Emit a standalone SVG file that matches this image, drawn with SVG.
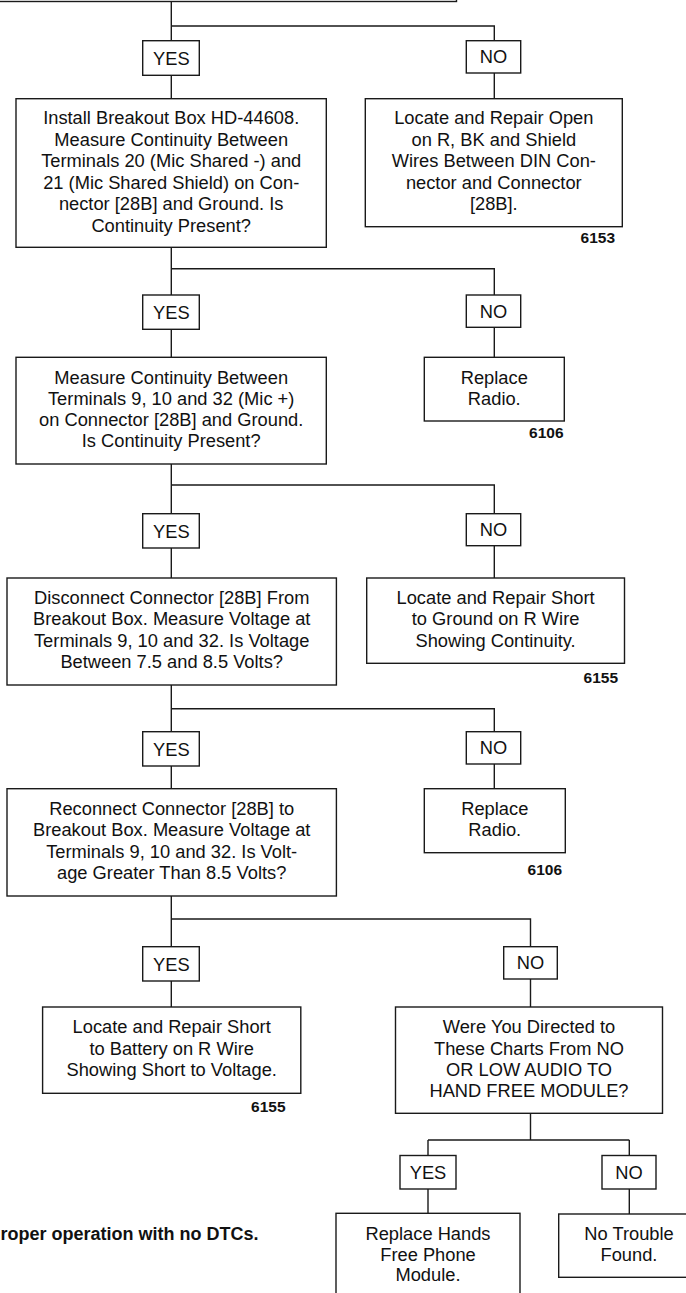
<svg xmlns="http://www.w3.org/2000/svg" width="686" height="1293" viewBox="0 0 686 1293">
<style>
.b{fill:#fff;stroke:#1a1a1a;stroke-width:1.4}
.c{fill:none;stroke:#1a1a1a;stroke-width:1.4}
.t{font-family:"Liberation Sans",Arial,sans-serif;font-size:18.3px;fill:#111;text-anchor:middle}
.n{font-family:"Liberation Sans",Arial,sans-serif;font-size:15.5px;font-weight:bold;fill:#111;text-anchor:end}
.f{font-family:"Liberation Sans",Arial,sans-serif;font-size:18px;font-weight:bold;fill:#111;text-anchor:start}
</style>
<rect width="686" height="1293" fill="#fff"/>
<g id="connectors">
<path class="c" d="M171.3 1.5V98.7M171.3 26H494.3V98.7"/>
<path class="c" d="M171.3 247.3V357.3M171.3 268.7H494.3V357.3"/>
<path class="c" d="M171.3 464V578M171.3 485H494.3V578"/>
<path class="c" d="M171.3 685V788.7M171.3 708.7H494.3V788.7"/>
<path class="c" d="M171.3 896V1007M171.3 919H530.5V1007"/>
<path class="c" d="M530.5 1113.3V1140M428 1140H629.3M428 1140V1213.3M629.3 1140V1214"/>
</g>
<g id="top"><rect class="b" x="-10" y="-50" width="466.5" height="51.5"/></g>
<g id="yes1"><rect class="b" x="142.7" y="40.7" width="56.6" height="34.6"/><text class="t" x="171.3" y="65">YES</text></g>
<g id="no1"><rect class="b" x="466.3" y="40.7" width="54.4" height="32.3"/><text class="t" x="493.5" y="63.3">NO</text></g>
<g id="box1"><rect class="b" x="16" y="98.7" width="310.3" height="148.6"/>
<text class="t" x="171.2" y="124">Install Breakout Box HD-44608.</text>
<text class="t" x="171.2" y="145.5">Measure Continuity Between</text>
<text class="t" x="171.2" y="167">Terminals 20 (Mic Shared -) and</text>
<text class="t" x="171.2" y="188.5">21 (Mic Shared Shield) on Con-</text>
<text class="t" x="171.2" y="210">nector [28B] and Ground. Is</text>
<text class="t" x="171.2" y="231.5">Continuity Present?</text></g>
<g id="rbox1"><rect class="b" x="365.3" y="98.7" width="257" height="128"/>
<text class="t" x="493.8" y="124">Locate and Repair Open</text>
<text class="t" x="493.8" y="145.5">on R, BK and Shield</text>
<text class="t" x="493.8" y="167">Wires Between DIN Con-</text>
<text class="t" x="493.8" y="188.5">nector and Connector</text>
<text class="t" x="493.8" y="210">[28B].</text>
<text class="n" x="615" y="243.3">6153</text></g>
<g id="yes2"><rect class="b" x="142.7" y="295" width="56.6" height="34.3"/><text class="t" x="171.3" y="319">YES</text></g>
<g id="no2"><rect class="b" x="466.3" y="295" width="54.4" height="32.3"/><text class="t" x="493.5" y="317.5">NO</text></g>
<g id="box2"><rect class="b" x="16" y="357.3" width="310.3" height="106.7"/>
<text class="t" x="171.2" y="383.5">Measure Continuity Between</text>
<text class="t" x="171.2" y="404.8">Terminals 9, 10 and 32 (Mic +)</text>
<text class="t" x="171.2" y="426.1">on Connector [28B] and Ground.</text>
<text class="t" x="171.2" y="447.4">Is Continuity Present?</text></g>
<g id="rbox2"><rect class="b" x="424.3" y="357.3" width="140" height="63.7"/>
<text class="t" x="494.3" y="383.5">Replace</text>
<text class="t" x="494.3" y="404.8">Radio.</text>
<text class="n" x="563.5" y="437.7">6106</text></g>
<g id="yes3"><rect class="b" x="142.7" y="513.7" width="56.6" height="34.3"/><text class="t" x="171.3" y="537.7">YES</text></g>
<g id="no3"><rect class="b" x="466.3" y="513.7" width="54.4" height="32"/><text class="t" x="493.5" y="536">NO</text></g>
<g id="box3"><rect class="b" x="7" y="578" width="329.4" height="107"/>
<text class="t" x="171.7" y="604">Disconnect Connector [28B] From</text>
<text class="t" x="171.7" y="625.3">Breakout Box. Measure Voltage at</text>
<text class="t" x="171.7" y="646.6">Terminals 9, 10 and 32. Is Voltage</text>
<text class="t" x="171.7" y="667.9">Between 7.5 and 8.5 Volts?</text></g>
<g id="rbox3"><rect class="b" x="366.7" y="578" width="257.8" height="85.3"/>
<text class="t" x="495.6" y="604">Locate and Repair Short</text>
<text class="t" x="495.6" y="625.3">to Ground on R Wire</text>
<text class="t" x="495.6" y="646.6">Showing Continuity.</text>
<text class="n" x="618" y="682.7">6155</text></g>
<g id="yes4"><rect class="b" x="142.7" y="731.7" width="56.6" height="34.3"/><text class="t" x="171.3" y="755.7">YES</text></g>
<g id="no4"><rect class="b" x="466.3" y="731.7" width="54.4" height="32.3"/><text class="t" x="493.5" y="754.3">NO</text></g>
<g id="box4"><rect class="b" x="7" y="788.7" width="329.4" height="107.3"/>
<text class="t" x="171.7" y="815">Reconnect Connector [28B] to</text>
<text class="t" x="171.7" y="836.3">Breakout Box. Measure Voltage at</text>
<text class="t" x="171.7" y="857.6">Terminals 9, 10 and 32. Is Volt-</text>
<text class="t" x="171.7" y="878.9">age Greater Than 8.5 Volts?</text></g>
<g id="rbox4"><rect class="b" x="424.3" y="788.7" width="141" height="64"/>
<text class="t" x="494.8" y="815">Replace</text>
<text class="t" x="494.8" y="836.3">Radio.</text>
<text class="n" x="562" y="875">6106</text></g>
<g id="yes5"><rect class="b" x="142.7" y="946.7" width="56.6" height="34.3"/><text class="t" x="171.3" y="970.7">YES</text></g>
<g id="no5"><rect class="b" x="503.7" y="946.7" width="53.6" height="32.3"/><text class="t" x="530.5" y="969.3">NO</text></g>
<g id="box5"><rect class="b" x="42.6" y="1007" width="258.2" height="86.3"/>
<text class="t" x="171.7" y="1033.3">Locate and Repair Short</text>
<text class="t" x="171.7" y="1054.5">to Battery on R Wire</text>
<text class="t" x="171.7" y="1075.5">Showing Short to Voltage.</text>
<text class="n" x="285.5" y="1111.7">6155</text></g>
<g id="box6"><rect class="b" x="395.5" y="1007" width="267" height="106.3"/>
<text class="t" x="529" y="1033.3">Were You Directed to</text>
<text class="t" x="529" y="1054.5">These Charts From NO</text>
<text class="t" x="529" y="1075.5">OR LOW AUDIO TO</text>
<text class="t" x="529" y="1096.8">HAND FREE MODULE?</text></g>
<g id="yes6"><rect class="b" x="400" y="1155.5" width="56" height="33.5"/><text class="t" x="428" y="1179.3">YES</text></g>
<g id="no6"><rect class="b" x="602" y="1155.5" width="54" height="33.5"/><text class="t" x="629" y="1179">NO</text></g>
<g id="box7"><rect class="b" x="336" y="1213.3" width="184" height="100"/>
<text class="t" x="428" y="1240">Replace Hands</text>
<text class="t" x="428" y="1260.7">Free Phone</text>
<text class="t" x="428" y="1281">Module.</text></g>
<g id="box8"><rect class="b" x="558.7" y="1214" width="141.3" height="63.3"/>
<text class="t" x="629" y="1240">No Trouble</text>
<text class="t" x="629" y="1260.7">Found.</text></g>
<g id="note"><text class="f" x="0.5" y="1240">roper operation with no DTCs.</text></g>
</svg>
